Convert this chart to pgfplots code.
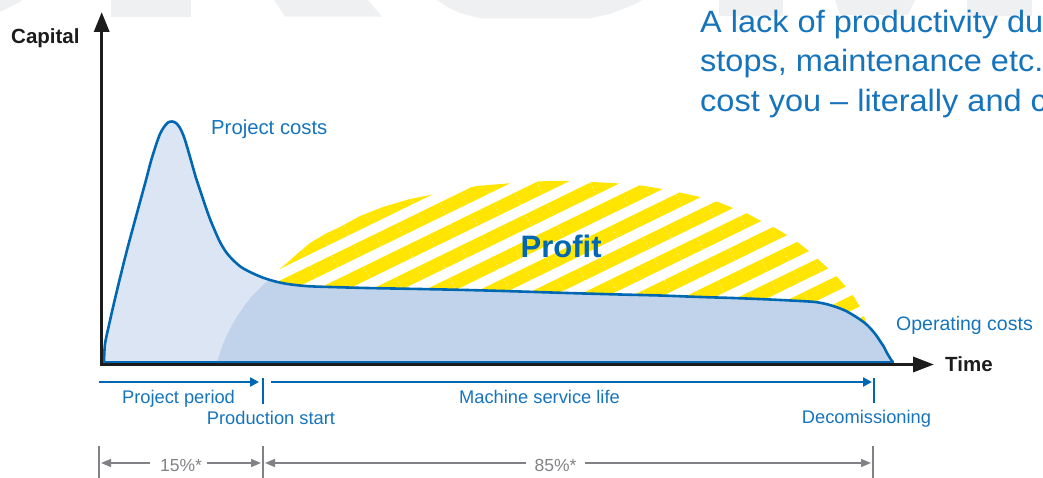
\documentclass[border=0pt]{standalone}
\usepackage{pgfplots}
\pgfplotsset{compat=1.18}
\usetikzlibrary{patterns.meta,arrows.meta}
\usepackage{fontspec}
\setmainfont{Liberation Sans}
\newfontfamily\widefont[FakeStretch=1.055]{Liberation Sans}
\definecolor{lineblue}{RGB}{0,104,178}
\definecolor{textblue}{RGB}{22,116,188}
\definecolor{lightfill}{RGB}{220,229,243}
\definecolor{darkfill}{RGB}{193,211,234}
\definecolor{yel}{RGB}{255,229,0}
\definecolor{dimgray}{RGB}{128,130,133}
\definecolor{axblack}{RGB}{28,28,28}
\definecolor{wm}{RGB}{239,240,242}
\begin{document}
\begin{tikzpicture}
\useasboundingbox (0,0) rectangle (1043pt,478pt);
\clip (0,0) rectangle (1043pt,478pt);
\begin{axis}[at={(0pt,0pt)}, anchor=south west, scale only axis,
  width=1043pt, height=478pt, xmin=0, xmax=1043, ymin=0, ymax=478,
  y dir=reverse, hide axis, clip=false]
% faint background shapes
\addplot[fill=wm, draw=none] coordinates {(0,0) (23,0) (16,4) (8,8) (0,12)} -- cycle;
\addplot[fill=wm, draw=none] coordinates {(111,0) (191,0) (191,16.7) (111,16.7)} -- cycle;
\addplot[fill=wm, draw=none] coordinates {(274,0) (368,0) (382,16.7) (285,16.7)} -- cycle;
\addplot[fill=wm, draw=none] coordinates {(437,0) (447,7) (460,13) (480,18.3) (590,18.3) (610,14) (628,7) (643,0)} -- cycle;
\addplot[fill=wm, draw=none] coordinates {(719,0) (783,0) (783,16) (719,16)} -- cycle;
\addplot[fill=wm, draw=none] coordinates {(835,0) (915,0) (908,15) (840,15)} -- cycle;
\addplot[fill=wm, draw=none] coordinates {(967,0) (1032,0) (1032,16) (967,16)} -- cycle;
% profit (striped)
\addplot[draw=none, pattern={Lines[angle=26,distance=24pt,line width=13.5pt]}, pattern color=yel] coordinates {
(268,279) (277,271) (287,263) (298,253) (310,243) (325,234) (340,227) (360,216) (383,207) (410,199) (440,193) (477,186) (513,183) (547,181) (570,181) (593,182) (620,183.5) (645,186) (662,189) (682,193) (700,197) (718,202) (733,208) (748,214) (763,222) (777,229) (790,237) (800,244) (810,252) (820,261) (830,270) (839,279) (847,288) (854,297) (860,307) (864,316) (866,322) (866,362) (268,362)} -- cycle;
% project costs area (light)
\addplot[fill=lightfill, draw=none] coordinates {
(104,362) (105,344) (109,325) (114,303) (120,278) (127,250) (134,224) (140,202) (146,180) (151,161) (156,145) (160,134) (164,127) (168,122.5) (172,121.5) (176,123) (180,128) (184,137) (188,150) (192,164) (196,178) (200,190) (205,205) (210,219) (215,231) (220,242) (226,252) (233,260) (241,267) (250,272) (260,276.5) (270,280) (282,283) (295,285) (310,286.3) (330,287) (367,288) (420,289) (467,290) (520,291.5) (567,293) (620,294.5) (660,295.5) (700,297) (733,298) (770,299.5) (800,301) (815,302) (826,304) (836,307) (845,310.5) (853,315) (860,319.5) (866,324) (871,329) (876,335) (880,341) (884,347) (887,353) (890,358) (892,361) (893,362)} -- cycle;
% operating costs area (dark)
\addplot[fill=darkfill, draw=none] coordinates {
(217,362) (220,353) (223,344) (227,335) (232,325) (238,315) (245,305) (252,296) (259,289) (265,283) (270,280) (282,283) (295,285) (310,286.3) (330,287) (367,288) (420,289) (467,290) (520,291.5) (567,293) (620,294.5) (660,295.5) (700,297) (733,298) (770,299.5) (800,301) (815,302) (826,304) (836,307) (845,310.5) (853,315) (860,319.5) (866,324) (871,329) (876,335) (880,341) (884,347) (887,353) (890,358) (892,361) (893,362)} -- cycle;
% curve line
\addplot[lineblue, line width=1.5pt] coordinates {(104,361.8) (893,361.8)};
\addplot[lineblue, line width=2.6pt, smooth, line join=round, line cap=round] coordinates {
(104,362) (105,344) (109,325) (114,303) (120,278) (127,250) (134,224) (140,202) (146,180) (151,161) (156,145) (160,134) (164,127) (168,122.5) (172,121.5) (176,123) (180,128) (184,137) (188,150) (192,164) (196,178) (200,190) (205,205) (210,219) (215,231) (220,242) (226,252) (233,260) (241,267) (250,272) (260,276.5) (270,280) (282,283) (295,285) (310,286.3) (330,287) (367,288) (420,289) (467,290) (520,291.5) (567,293) (620,294.5) (660,295.5) (700,297) (733,298) (770,299.5) (800,301) (815,302) (826,304) (836,307) (845,310.5) (853,315) (860,319.5) (866,324) (871,329) (876,335) (880,341) (884,347) (887,353) (890,358) (892,361) (893,362)};
% axes
\addplot[axblack, line width=3.4pt, -{Triangle[width=15pt,length=20pt]}] coordinates {(101.7,366) (101.7,12)};
\addplot[axblack, line width=3.4pt, -{Triangle[width=15pt,length=21pt]}] coordinates {(100,364.5) (934,364.5)};
% blue period arrows
\addplot[lineblue, line width=2.3pt, -{Triangle[width=9pt,length=9pt]}] coordinates {(99,382) (259,382)};
\addplot[lineblue, line width=1.5pt] coordinates {(263,378) (263,404)};
\addplot[lineblue, line width=2.3pt, -{Triangle[width=9pt,length=9pt]}] coordinates {(271,382) (872,382)};
\addplot[lineblue, line width=1.5pt] coordinates {(874,378) (874,403)};
% gray dimension lines
\addplot[dimgray, line width=1.3pt] coordinates {(99,446) (99,478)};
\addplot[dimgray, line width=1.3pt] coordinates {(263,446) (263,478)};
\addplot[dimgray, line width=1.3pt] coordinates {(873,446) (873,478)};
\addplot[dimgray, line width=1.6pt, -{Triangle[width=8pt,length=10pt]}] coordinates {(150,463) (101,463)};
\addplot[dimgray, line width=1.6pt, -{Triangle[width=8pt,length=10pt]}] coordinates {(207,463) (261,463)};
\addplot[dimgray, line width=1.6pt, -{Triangle[width=8pt,length=10pt]}] coordinates {(526,463) (265,463)};
\addplot[dimgray, line width=1.6pt, -{Triangle[width=8pt,length=10pt]}] coordinates {(585,463) (871,463)};
% texts
\node[anchor=base west, inner sep=0, text=axblack, font=\fontsize{20.5}{24}\selectfont\bfseries] at (axis cs:11,43.3) {Capital};
\node[anchor=base west, inner sep=0, text=axblack, font=\fontsize{20.5}{24}\selectfont\bfseries] at (axis cs:945,371.7) {Time};
\node[anchor=base west, inner sep=0, text=textblue, font=\fontsize{20.3}{24}\selectfont] at (axis cs:211,134.3) {Project costs};
\node[anchor=base west, inner sep=0, text=textblue, font=\fontsize{19.5}{24}\selectfont] at (axis cs:896,330) {Operating costs};
\node[anchor=base west, inner sep=0, text=lineblue, font=\fontsize{31}{36}\selectfont\bfseries] at (axis cs:520.5,257.5) {Profit};
\node[anchor=base west, inner sep=0, text=textblue, font=\widefont\fontsize{30.8}{40}\selectfont] at (axis cs:700,32.3) {A lack of productivity du};
\node[anchor=base west, inner sep=0, text=textblue, font=\widefont\fontsize{30.8}{40}\selectfont] at (axis cs:700,71.7) {stops, maintenance etc.};
\node[anchor=base west, inner sep=0, text=textblue, font=\widefont\fontsize{30.8}{40}\selectfont] at (axis cs:700,111.7) {cost you – literally and c};
\node[anchor=base, inner sep=0, text=textblue, font=\fontsize{18.3}{22}\selectfont] at (axis cs:178.5,403) {Project period};
\node[anchor=base, inner sep=0, text=textblue, font=\fontsize{18.3}{22}\selectfont] at (axis cs:271,424) {Production start};
\node[anchor=base, inner sep=0, text=textblue, font=\fontsize{18.3}{22}\selectfont] at (axis cs:539.5,403) {Machine service life};
\node[anchor=base, inner sep=0, text=textblue, font=\fontsize{18.3}{22}\selectfont] at (axis cs:866.5,423.3) {Decomissioning};
\node[anchor=base, inner sep=0, text=dimgray, font=\fontsize{17.5}{22}\selectfont] at (axis cs:181,471.5) {15\%*};
\node[anchor=base, inner sep=0, text=dimgray, font=\fontsize{17.5}{22}\selectfont] at (axis cs:555.5,471.5) {85\%*};
\end{axis}
\end{tikzpicture}
\end{document}
